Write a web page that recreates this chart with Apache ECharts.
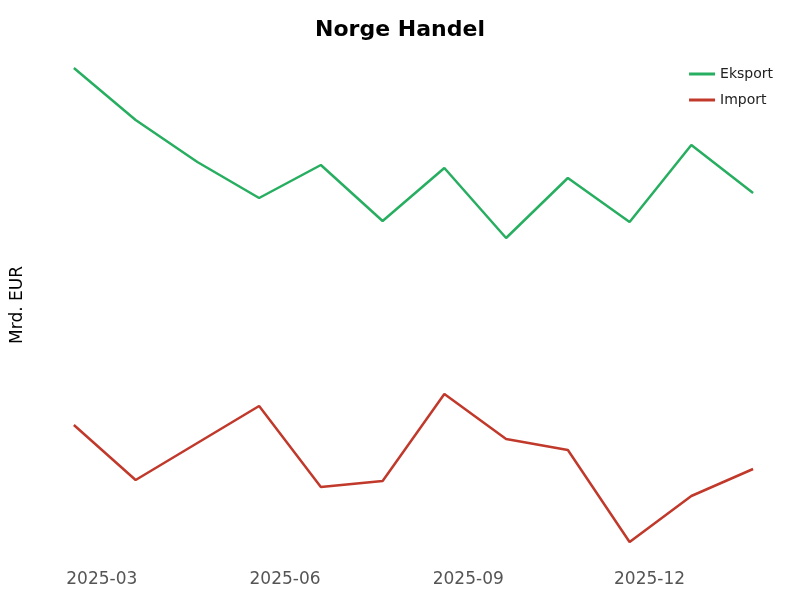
<!DOCTYPE html>
<html><head><meta charset="utf-8">
<script src="https://cdn.jsdelivr.net/npm/echarts@6/dist/echarts.min.js"></script>
<style>html,body{margin:0;padding:0;background:#fff}#c{width:800px;height:600px}</style>
</head><body><div id="c"></div>
<script>
const dates = ['2025-02-15','2025-03-18','2025-04-18','2025-05-19','2025-06-19','2025-07-20','2025-08-20','2025-09-20','2025-10-21','2025-11-21','2025-12-22','2026-01-22'];
const eksport = [97.4, 87, 78.6, 71.4, 78, 66.8, 77.4, 63.4, 75.4, 66.6, 82, 72.4];
const importV = [26, 15, 22.4, 29.8, 13.6, 14.8, 32.2, 23.2, 21, 2.6, 11.8, 17.2];
const tickMonths = [3, 6, 9, 12];
const chart = echarts.init(document.getElementById('c'));
const font = 'DejaVu Sans';
chart.setOption({
  animation: false,
  title: {text: 'Norge Handel', left: 'center', top: 14, textStyle: {fontFamily: font, fontSize: 22, fontWeight: 'bold', color: '#000'}},
  legend: {right: 22, top: 62, orient: 'vertical', itemWidth: 26, itemHeight: 3, itemGap: 12, icon: 'rect',
    textStyle: {fontFamily: font, fontSize: 14, color: '#222'}},
  grid: {left: 46, right: 27, top: 55, bottom: 45},
  xAxis: {type: 'time', min: '2025-02-01', max: '2026-02-01', splitNumber: 12,
    axisLine: {show: false}, axisTick: {show: false}, splitLine: {show: false},
    axisLabel: {fontFamily: font, fontSize: 17, color: '#555', margin: 16, hideOverlap: false,
      formatter: function (v) { const d = new Date(v); const m = d.getMonth() + 1;
        return (d.getDate() === 1 && tickMonths.includes(m)) ? d.getFullYear() + '-' + String(m).padStart(2, '0') : ''; }}},
  yAxis: {type: 'value', min: 0, max: 100, axisLabel: {show: false}, axisLine: {show: false}, axisTick: {show: false}, splitLine: {show: false},
    name: 'Mrd. EUR', nameLocation: 'middle', nameGap: 20, nameTextStyle: {fontFamily: font, fontSize: 17, color: '#000'}},
  series: [
    {name: 'Eksport', type: 'line', data: dates.map((d, i) => [d, eksport[i]]), showSymbol: false, lineStyle: {width: 2.5, color: '#27ae60'}, itemStyle: {color: '#27ae60'}},
    {name: 'Import', type: 'line', data: dates.map((d, i) => [d, importV[i]]), showSymbol: false, lineStyle: {width: 2.5, color: '#c0392b'}, itemStyle: {color: '#c0392b'}}
  ]
});
</script></body></html>
